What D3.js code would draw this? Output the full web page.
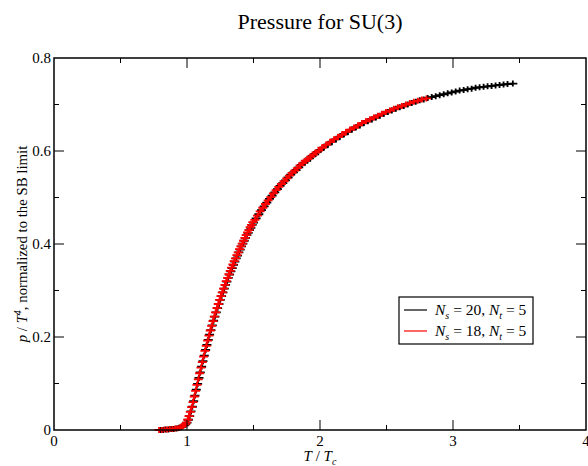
<!DOCTYPE html>
<html><head><meta charset="utf-8">
<script src="https://cdn.jsdelivr.net/npm/d3@7"></script>
<style>body{margin:0;background:#fff}svg{display:block}text{font-family:"Liberation Serif","Times New Roman",serif;fill:#000}</style>
</head><body>
<script>
const xTicks = [0, 1, 2, 3, 4];
const yTicks = [0, 0.2, 0.4, 0.6, 0.8];
const seriesNames = ["N_s = 20, N_t = 5", "N_s = 18, N_t = 5"];
const blackT = [0.80,0.82,0.84,0.86,0.88,0.90,0.92,0.94,0.96,0.98,
 0.99,1.00,1.01,1.02,1.03,1.04,1.05,1.06,1.07,1.08,1.09,1.10,1.11,1.12,1.13,1.14,1.15,1.16,1.17,1.18,1.19,1.20,
 1.21,1.22,1.23,1.24,1.25,1.26,1.27,1.28,1.29,1.30,1.31,1.32,1.33,1.34,1.35,1.36,1.37,1.38,1.39,1.40,
 1.41,1.42,1.43,1.44,1.45,1.46,1.47,1.48,1.49,1.50,
 1.52,1.54,1.56,1.58,1.60,1.62,1.64,1.66,1.68,1.70,1.72,1.74,1.76,1.78,1.80,1.82,1.84,1.86,1.88,1.90,1.92,1.94,1.96,1.98,2.00,
 2.03,2.06,2.09,2.12,2.15,2.18,2.21,2.24,2.27,2.30,2.33,2.36,2.39,2.42,2.45,2.48,2.51,2.54,2.57,2.60,2.63,2.66,2.69,2.72,2.75,2.78,
 2.81,2.84,2.87,2.90,2.93,2.96,2.99,3.02,3.05,3.08,3.11,3.14,3.17,3.20,3.23,3.26,3.29,3.32,3.35,3.38,3.41,3.45];
const blackP = [0.000,0.000,0.001,0.001,0.002,0.002,0.003,0.005,0.007,0.010,
 0.012,0.016,0.022,0.030,0.040,0.050,0.062,0.074,0.087,0.099,0.112,0.124,0.136,0.148,0.160,0.172,0.183,0.194,0.205,0.215,0.225,0.235,
 0.244,0.253,0.262,0.271,0.280,0.288,0.296,0.304,0.312,0.319,0.327,0.334,0.341,0.348,0.355,0.362,0.369,0.375,0.382,0.388,
 0.395,0.401,0.407,0.413,0.419,0.424,0.430,0.435,0.441,0.446,
 0.455,0.464,0.473,0.481,0.489,0.497,0.504,0.511,0.518,0.525,0.531,0.537,0.543,0.549,0.554,0.559,0.565,0.570,0.575,0.579,0.584,0.589,0.593,0.598,0.602,
 0.608,0.614,0.620,0.625,0.631,0.636,0.641,0.646,0.651,0.655,0.660,0.664,0.668,0.672,0.676,0.680,0.684,0.687,0.691,0.694,0.697,0.700,0.703,0.706,0.709,0.711,
 0.714,0.716,0.718,0.720,0.722,0.724,0.726,0.728,0.730,0.731,0.733,0.734,0.736,0.737,0.738,0.739,0.740,0.741,0.742,0.743,0.744,0.745];
const redT = [0.79,0.81,0.83,0.85,0.87,0.89,0.91,0.93,0.95,0.97,
 0.985,0.995,1.005,1.015,1.025,1.035,1.045,1.055,1.065,1.075,1.085,1.095,1.105,1.115,1.125,1.135,1.145,1.155,1.165,1.175,1.185,1.195,
 1.205,1.215,1.225,1.235,1.245,1.255,1.265,1.275,1.285,1.295,1.305,1.315,1.325,1.335,1.345,1.355,1.365,1.375,1.385,1.395,
 1.405,1.415,1.425,1.435,1.445,1.455,1.465,1.475,1.485,1.495,
 1.51,1.53,1.55,1.57,1.59,1.61,1.63,1.65,1.67,1.69,1.71,1.73,1.75,1.77,1.79,1.81,1.83,1.85,1.87,1.89,1.91,1.93,1.95,1.97,1.99,
 2.015,2.045,2.075,2.105,2.135,2.165,2.195,2.225,2.255,2.285,2.315,2.345,2.375,2.405,2.435,2.465,2.495,2.525,2.555,2.585,2.615,2.645,2.675,2.705,2.735,2.765,2.80];
const redP = [0.000,0.000,0.001,0.001,0.002,0.002,0.003,0.004,0.006,0.008,
 0.012,0.016,0.022,0.030,0.039,0.049,0.060,0.072,0.084,0.097,0.109,0.122,0.134,0.146,0.158,0.170,0.181,0.192,0.203,0.214,0.224,0.234,
 0.244,0.253,0.262,0.271,0.280,0.288,0.296,0.304,0.312,0.320,0.327,0.335,0.342,0.349,0.356,0.363,0.369,0.376,0.382,0.389,
 0.395,0.401,0.407,0.413,0.419,0.425,0.430,0.436,0.441,0.447,
 0.452,0.461,0.470,0.478,0.486,0.494,0.501,0.509,0.516,0.523,0.529,0.535,0.541,0.547,0.553,0.558,0.563,0.569,0.574,0.579,0.583,0.588,0.592,0.597,0.601,
 0.607,0.613,0.619,0.625,0.630,0.635,0.641,0.646,0.650,0.655,0.660,0.664,0.668,0.672,0.676,0.680,0.684,0.687,0.691,0.694,0.697,0.700,0.703,0.706,0.708,0.711,0.713];

const W = 588, H = 466;
const L = 54, R = 586, T = 58, B = 430;
const svg = d3.select("body").append("svg").attr("width", W).attr("height", H);
const x = d3.scaleLinear().domain([0, 4]).range([L, R]);
const y = d3.scaleLinear().domain([0, 0.8]).range([B, T]);

// data
const series = [
  {color: "#000", pts: blackT.map((t, i) => [t, blackP[i]])},
  {color: "#ff0000", pts: redT.map((t, i) => [t, redP[i]])}
];
const line = d3.line().x(d => x(d[0])).y(d => y(d[1]));
const plot = svg.append("g");
series.forEach(s => {
  const g = plot.append("g");
  g.append("path").attr("d", line(s.pts)).attr("fill", "none").attr("stroke", s.color).attr("stroke-width", 1.5);
  g.selectAll("path.m").data(s.pts).enter().append("path").attr("class", "m")
    .attr("d", d => {
      const cx = x(d[0]), cy = y(d[1]);
      return `M${cx-4.5},${cy}H${cx+4.5}M${cx},${cy-3}V${cy+3}`;
    })
    .attr("stroke", s.color).attr("stroke-width", 1.8).attr("fill", "none");
});

// frame and ticks
const ax = svg.append("g").attr("stroke", "#000");
ax.append("rect").attr("x", L).attr("y", T).attr("width", R - L).attr("height", B - T)
  .attr("fill", "none").attr("stroke-width", 1.5);
const xMinor = d3.range(0.5, 4, 1);
const yMinor = d3.range(0.1, 0.8, 0.2);
xTicks.slice(1, -1).forEach(v => {
  ax.append("line").attr("x1", x(v)).attr("x2", x(v)).attr("y1", B).attr("y2", B - 10).attr("stroke-width", 1);
  ax.append("line").attr("x1", x(v)).attr("x2", x(v)).attr("y1", T).attr("y2", T + 10).attr("stroke-width", 1);
});
xMinor.forEach(v => {
  ax.append("line").attr("x1", x(v)).attr("x2", x(v)).attr("y1", B).attr("y2", B - 5).attr("stroke-width", 1);
  ax.append("line").attr("x1", x(v)).attr("x2", x(v)).attr("y1", T).attr("y2", T + 5).attr("stroke-width", 1);
});
yTicks.slice(1, -1).forEach(v => {
  ax.append("line").attr("y1", y(v)).attr("y2", y(v)).attr("x1", L).attr("x2", L + 10).attr("stroke-width", 1);
  ax.append("line").attr("y1", y(v)).attr("y2", y(v)).attr("x1", R).attr("x2", R - 10).attr("stroke-width", 1);
});
yMinor.forEach(v => {
  ax.append("line").attr("y1", y(v)).attr("y2", y(v)).attr("x1", L).attr("x2", L + 5).attr("stroke-width", 1);
  ax.append("line").attr("y1", y(v)).attr("y2", y(v)).attr("x1", R).attr("x2", R - 5).attr("stroke-width", 1);
});

// tick labels
xTicks.forEach(v => svg.append("text").attr("x", x(v)).attr("y", B + 16).attr("text-anchor", "middle")
  .attr("font-size", 15).text(d3.format("")(v)));
yTicks.forEach(v => svg.append("text").attr("x", L - 3).attr("y", y(v) + 5).attr("text-anchor", "end")
  .attr("font-size", 15).text(v === 0 ? "0" : d3.format(".1f")(v)));

// title
svg.append("text").attr("x", (L + R) / 2).attr("y", 29).attr("text-anchor", "middle")
  .attr("font-size", 22).text("Pressure for SU(3)");

// x label
const xl = svg.append("text").attr("x", (L + R) / 2).attr("y", 461).attr("text-anchor", "middle").attr("font-size", 15);
xl.append("tspan").attr("font-style", "italic").text("T");
xl.append("tspan").text(" / ");
xl.append("tspan").attr("font-style", "italic").text("T");
xl.append("tspan").attr("font-style", "italic").attr("font-size", 10).attr("dy", 4).text("c");

// y label
const yl = svg.append("text").attr("transform", `translate(27,${(T + B) / 2}) rotate(-90)`)
  .attr("text-anchor", "middle").attr("font-size", 14.8);
yl.append("tspan").attr("font-style", "italic").text("p");
yl.append("tspan").text(" / ");
yl.append("tspan").attr("font-style", "italic").text("T");
yl.append("tspan").attr("font-style", "italic").attr("font-size", 10).attr("dy", -6).text("4");
yl.append("tspan").attr("dy", 6).text(", normalized to the SB limit");

// legend
const lg = svg.append("g");
lg.append("rect").attr("x", 399).attr("y", 297).attr("width", 134).attr("height", 47)
  .attr("fill", "#fff").attr("stroke", "#000").attr("stroke-width", 1.2);
const legendColors = ["#000", "#ff0000"];
seriesNames.forEach((nm, i) => {
  const ly = 310 + i * 21;
  lg.append("line").attr("x1", 404).attr("x2", 427).attr("y1", ly).attr("y2", ly)
    .attr("stroke", legendColors[i]).attr("stroke-width", 1.2);
  const m = nm.match(/N_s = (\d+), N_t = (\d+)/);
  const t = lg.append("text").attr("x", 435).attr("y", ly + 5).attr("font-size", 15.5);
  t.append("tspan").attr("font-style", "italic").text("N");
  t.append("tspan").attr("font-style", "italic").attr("font-size", 10).attr("dy", 4).text("s");
  t.append("tspan").attr("dy", -4).text(" = " + m[1] + ", ");
  t.append("tspan").attr("font-style", "italic").text("N");
  t.append("tspan").attr("font-style", "italic").attr("font-size", 10).attr("dy", 4).text("t");
  t.append("tspan").attr("dy", -4).text(" = " + m[2]);
});
</script>
</body></html>
